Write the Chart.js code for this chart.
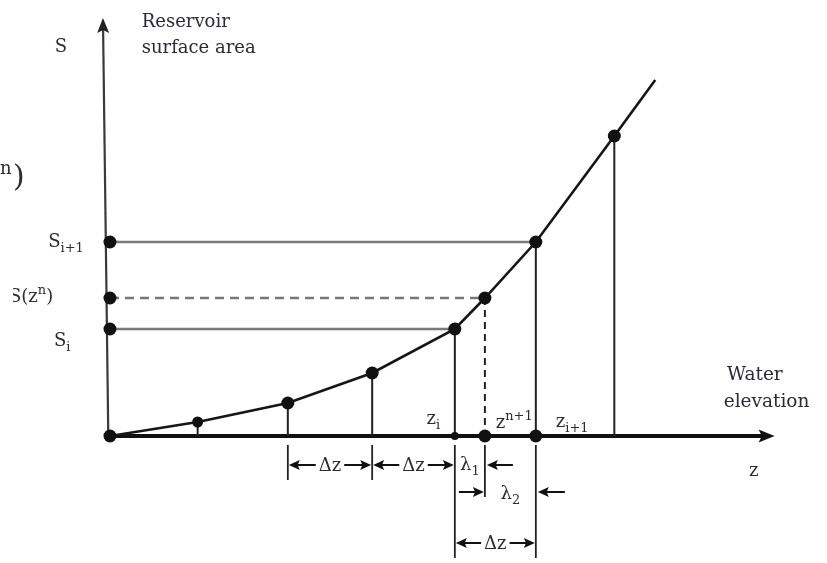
<!DOCTYPE html>
<html><head><meta charset="utf-8">
<script src="https://cdn.jsdelivr.net/npm/chart.js@4.4.1/dist/chart.umd.min.js"></script>
<style>html,body{margin:0;padding:0;background:#fff;} #wrap{width:827px;height:563px;}</style>
</head><body><div id="wrap"><canvas id="c" width="827" height="563"></canvas></div>
<script>
// Schematic reservoir curve: water elevation z (Δz = 1 unit) vs surface area S (arbitrary units)
const curveZ = [0, 1.05, 2.13, 3.14, 4.13, 4.49, 5.10, 6.04, 6.53];
const curveS = [0, 1.4, 3.3, 6.3, 10.7, 13.8, 19.4, 30.0, 35.6];
const curveMarked = [true, true, true, true, true, true, true, true, false];
const dropIdx = [1, 2, 3, 4, 6, 7];   // solid drop lines to the z axis
const levelIdx = [4, 6];              // S_i, S_{i+1}
const interpIdx = 5;                  // z^{n+1}, S(z^n)
const iIdx = 4, i1Idx = 6;
const zAxisEnd = 7.96;
const sAxisEnd = 41.8;
const zRange = [-1.317, 8.587];
const sRange = [-12.7, 43.6];

const pt = i => ({x: curveZ[i], y: curveS[i]});
const GAP = {x: NaN, y: null};

const FONT = '"DejaVu Serif", "Liberation Serif", serif';
const TXT = '#2a2a38';

function rich(ctx, parts, x, y, align, size) {
  const small = size * 0.72;
  let w = 0;
  const ms = parts.map(p => {
    ctx.font = (p[1] ? small : size) + 'px ' + FONT;
    const m = ctx.measureText(p[0]).width;
    w += m;
    return m;
  });
  let cx = align === 'right' ? x - w : align === 'center' ? x - w / 2 : x;
  parts.forEach((p, k) => {
    ctx.font = (p[1] ? small : size) + 'px ' + FONT;
    let yy = y;
    if (p[1] === 'sub') yy = y + size * 0.28;
    if (p[1] === 'sup') yy = y - size * 0.42;
    ctx.fillText(p[0], cx, yy);
    cx += ms[k];
  });
}

function head(ctx, tx, ty, ang, len, hw) {
  ctx.save();
  ctx.translate(tx, ty);
  ctx.rotate(ang);
  ctx.beginPath();
  ctx.moveTo(0, 0);
  ctx.lineTo(-len, -hw);
  ctx.lineTo(-len * 0.8, 0);
  ctx.lineTo(-len, hw);
  ctx.closePath();
  ctx.fill();
  ctx.restore();
}

const diagram = {
  id: 'diagram',
  beforeDatasetsDraw(chart) {
    const ctx = chart.ctx, X = v => chart.scales.x.getPixelForValue(v), Y = v => chart.scales.y.getPixelForValue(v);
    ctx.save();
    // y axis
    ctx.strokeStyle = '#3a3a3a'; ctx.fillStyle = '#222'; ctx.lineWidth = 2.2;
    const x0 = X(-0.02), y0 = Y(0), x1 = X(-0.084), y1 = Y(sAxisEnd);
    const ang = Math.atan2(y1 - y0, x1 - x0);
    ctx.beginPath(); ctx.moveTo(x0, y0); ctx.lineTo(x1 - 10 * Math.cos(ang), y1 - 10 * Math.sin(ang)); ctx.stroke();
    head(ctx, x1, y1, ang, 15, 6);
    // z axis
    ctx.strokeStyle = '#111'; ctx.fillStyle = '#111'; ctx.lineWidth = 4;
    ctx.beginPath(); ctx.moveTo(X(0), Y(0)); ctx.lineTo(X(zAxisEnd) - 10, Y(0)); ctx.stroke();
    head(ctx, X(zAxisEnd), Y(0), 0, 16, 6.5);

    // dimension extension ticks
    ctx.strokeStyle = '#222'; ctx.lineWidth = 1.8;
    const tick = (z, s1, s2) => { ctx.beginPath(); ctx.moveTo(X(z), Y(s1)); ctx.lineTo(X(z), Y(s2)); ctx.stroke(); };
    tick(curveZ[2], -0.9, -4.4);
    tick(curveZ[3], -0.9, -4.4);
    tick(curveZ[iIdx], -0.9, -12.2);
    tick(curveZ[interpIdx], -0.9, -6.1);
    tick(curveZ[i1Idx], -0.9, -12.2);
    ctx.restore();
  },
  afterDatasetsDraw(chart) {
    const ctx = chart.ctx, X = v => chart.scales.x.getPixelForValue(v), Y = v => chart.scales.y.getPixelForValue(v);
    ctx.save();
    ctx.fillStyle = TXT; ctx.textBaseline = 'alphabetic';
    const F = 18;
    // axis titles
    rich(ctx, [['S']], X(-0.66), Y(38.4), 'left', F);
    rich(ctx, [['Reservoir']], X(0.38), Y(40.9), 'left', F);
    rich(ctx, [['surface area']], X(0.38), Y(38.3), 'left', F);
    rich(ctx, [['Water']], X(7.39), Y(5.6), 'left', 18.5);
    rich(ctx, [['elevation']], X(7.35), Y(2.9), 'left', 18.5);
    rich(ctx, [['z']], X(7.71), Y(-4.0), 'center', F);
    // S labels
    rich(ctx, [['S'], ['i+1', 'sub']], X(-0.74), Y(18.9), 'left', F);
    ctx.save();
    ctx.beginPath(); ctx.rect(X(-1.16), 0, 900, 600); ctx.clip();
    rich(ctx, [['S(z'], ['n', 'sup'], [')']], X(-0.68), Y(13.4), 'right', F);
    ctx.restore();
    rich(ctx, [['S'], ['i', 'sub']], X(-0.67), Y(9.0), 'left', F);
    // clipped label at the left edge
    ctx.font = '18px ' + FONT; ctx.fillText('n', X(-1.317), Y(26.2));
    ctx.font = '30px ' + FONT; ctx.fillText(')', X(-1.16), Y(25.0));
    // z labels
    rich(ctx, [['z'], ['i', 'sub']], X(3.79), Y(1.2), 'left', F);
    rich(ctx, [['z'], ['n+1', 'sup']], X(4.62), Y(0.8), 'left', F);
    rich(ctx, [['z'], ['i+1', 'sub']], X(5.34), Y(0.9), 'left', F);

    // dimension arrows
    ctx.strokeStyle = '#111'; ctx.fillStyle = '#111'; ctx.lineWidth = 2;
    const seg = (xa, xb, y) => { ctx.beginPath(); ctx.moveTo(xa, y); ctx.lineTo(xb, y); ctx.stroke(); };
    const inner = (za, zb, s, parts) => {
      const a = X(za), b = X(zb), y = Y(s), c = (a + b) / 2;
      ctx.font = F + 'px ' + FONT;
      const hw = ctx.measureText('Δz').width / 2 + 3;
      seg(a + 6, c - hw, y); head(ctx, a + 1, y, Math.PI, 11, 5);
      seg(c + hw, b - 6, y); head(ctx, b - 1, y, 0, 11, 5);
      ctx.fillStyle = TXT; rich(ctx, parts, c, y + 6, 'center', F); ctx.fillStyle = '#111';
    };
    inner(curveZ[2], curveZ[3], -2.9, [['Δz']]);
    inner(curveZ[3], curveZ[iIdx], -2.9, [['Δz']]);
    inner(curveZ[iIdx], curveZ[i1Idx], -10.7, [['Δz']]);
    // λ1 (outside arrow from the right)
    {
      const a = X(curveZ[iIdx]), b = X(curveZ[interpIdx]), y = Y(-2.9);
      ctx.fillStyle = TXT; rich(ctx, [['λ'], ['1', 'sub']], (a + b) / 2, y + 5, 'center', F); ctx.fillStyle = '#111';
      seg(b + 6, b + 28, y); head(ctx, b + 2, y, Math.PI, 11, 5);
    }
    // λ2 (outside arrows)
    {
      const a = X(curveZ[interpIdx]), b = X(curveZ[i1Idx]), y = Y(-5.6);
      ctx.fillStyle = TXT; rich(ctx, [['λ'], ['2', 'sub']], (a + b) / 2, y + 7, 'center', F); ctx.fillStyle = '#111';
      seg(a - 26, a - 6, y); head(ctx, a - 1, y, 0, 11, 5);
      seg(b + 6, b + 29, y); head(ctx, b + 2, y, Math.PI, 11, 5);
    }
    ctx.restore();
  }
};

new Chart(document.getElementById('c'), {
  type: 'scatter',
  data: {
    datasets: [
      { // points on the S axis
        data: levelIdx.concat([interpIdx]).map(i => ({x: 0, y: curveS[i]})),
        pointRadius: 6.5, pointBackgroundColor: '#111', pointBorderWidth: 0, showLine: false
      },
      { // points on the z axis
        data: [iIdx, interpIdx, i1Idx].map(i => ({x: curveZ[i], y: 0})),
        pointRadius: [4, 6.5, 6.5], pointBackgroundColor: '#111', pointBorderWidth: 0, showLine: false
      },
      { // curve
        data: curveZ.map((z, i) => pt(i)),
        showLine: true, borderColor: '#161616', borderWidth: 2.6, tension: 0,
        pointRadius: curveZ.map((z, i) => curveMarked[i] ? (i === 1 ? 5.5 : 6.5) : 0),
        pointBackgroundColor: '#111', pointBorderWidth: 0
      },
      { // solid drop lines
        data: dropIdx.flatMap(i => [{x: curveZ[i], y: 0}, pt(i), GAP]),
        showLine: true, spanGaps: false, borderColor: '#222', borderWidth: 2, pointRadius: 0
      },
      { // S_i, S_{i+1} levels
        data: levelIdx.flatMap(i => [{x: 0, y: curveS[i]}, pt(i), GAP]),
        showLine: true, spanGaps: false, borderColor: '#7a7a7a', borderWidth: 2.6, pointRadius: 0
      },
      { // dashed S(z^n) level
        data: [{x: 0, y: curveS[interpIdx]}, pt(interpIdx)],
        showLine: true, borderColor: '#777', borderWidth: 2.6, borderDash: [9, 6], pointRadius: 0
      },
      { // dashed z^{n+1} drop
        data: [pt(interpIdx), {x: curveZ[interpIdx], y: 0}],
        showLine: true, borderColor: '#222', borderWidth: 2, borderDash: [7, 5], pointRadius: 0
      }
    ]
  },
  options: {
    responsive: false, animation: false, devicePixelRatio: 1,
    layout: {padding: 0, autoPadding: false},
    plugins: {legend: {display: false}, tooltip: {enabled: false}, title: {display: false}},
    scales: {
      x: {type: 'linear', display: false, min: zRange[0], max: zRange[1]},
      y: {type: 'linear', display: false, min: sRange[0], max: sRange[1]}
    }
  },
  plugins: [diagram]
});
</script>
</body></html>
